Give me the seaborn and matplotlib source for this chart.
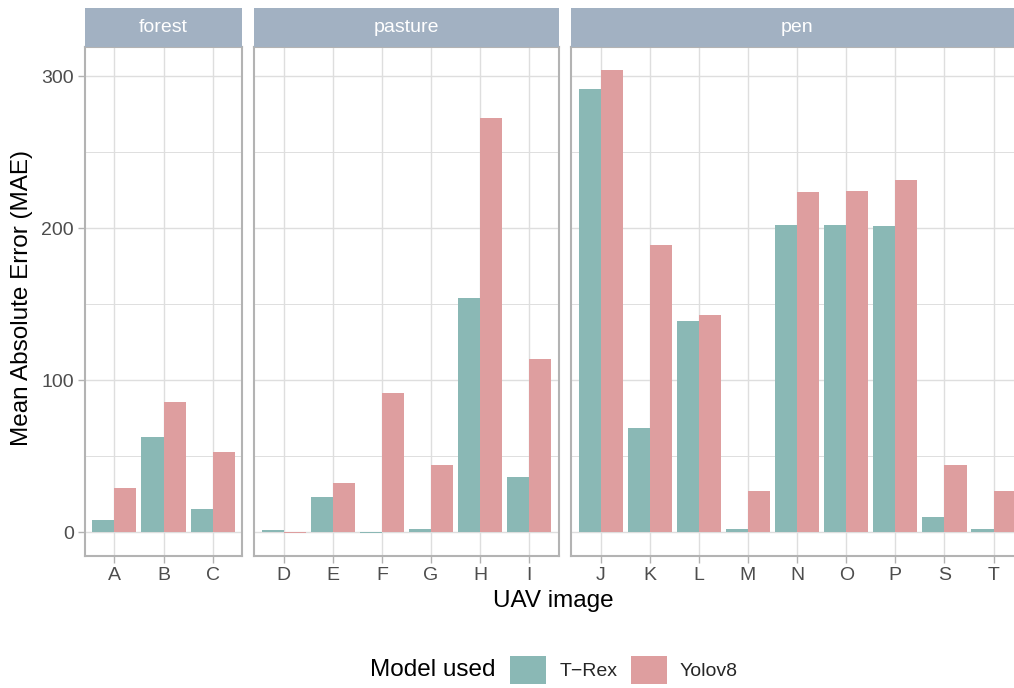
import matplotlib
matplotlib.use("Agg")
import matplotlib.pyplot as plt
from matplotlib.patches import Patch
from matplotlib.ticker import FixedLocator
import seaborn as sns
import pandas as pd

sns.set_theme(style="white")
plt.rcParams['font.family'] = ['Liberation Sans', 'DejaVu Sans']

# ---- data ----
facets = ["forest", "pasture", "pen"]
forest_images = ["A", "B", "C"]
pasture_images = ["D", "E", "F", "G", "H", "I"]
pen_images = ["J", "K", "L", "M", "N", "O", "P", "S", "T"]
models = ["T\u2212Rex", "Yolov8"]

forest_trex = [8.2, 62.6, 15.4]
forest_yolo = [29.1, 85.5, 52.7]
pasture_trex = [1.3, 23.0, -0.3, 2.0, 154.1, 36.3]
pasture_yolo = [-0.5, 32.5, 91.5, 44.2, 272.4, 113.6]
pen_trex = [291.8, 68.4, 139.1, 2.2, 202.1, 202.0, 201.2, 10.2, 2.2]
pen_yolo = [304.3, 188.8, 143.0, 27.2, 224.0, 224.7, 231.8, 44.2, 27.2]

colors = {"T\u2212Rex": "#8AB8B5", "Yolov8": "#DE9E9F"}

rows = []
for fac, imgs, tr, yo in [("forest", forest_images, forest_trex, forest_yolo),
                          ("pasture", pasture_images, pasture_trex, pasture_yolo),
                          ("pen", pen_images, pen_trex, pen_yolo)]:
    for i, t, y in zip(imgs, tr, yo):
        rows.append({"facet": fac, "image": i, "model": models[0], "mae": t})
        rows.append({"facet": fac, "image": i, "model": models[1], "mae": y})
df = pd.DataFrame(rows)

W, H = 1014, 688
fig = plt.figure(figsize=(W / 100, H / 100), dpi=100)

panel_px = {"forest": (84.8, 242.2), "pasture": (254.2, 558.8), "pen": (571.2, 1023.0)}
order = {"forest": forest_images, "pasture": pasture_images, "pen": pen_images}
ptop, pbot = 47.0, 556.0
stop = 8.0

border = "#B3B3B3"
gridc = "#DEDEDE"
ylim = (-15.7, 319.2)
small = 14
large = 17.5

for k, fac in enumerate(facets):
    l, r = panel_px[fac]
    ax = fig.add_axes([l / W, 1 - pbot / H, (r - l) / W, (pbot - ptop) / H])
    sub = df[df.facet == fac]
    sns.barplot(data=sub, x="image", y="mae", hue="model", order=order[fac],
                hue_order=models, palette=colors, width=0.9, gap=0,
                saturation=1, ax=ax, legend=False, errorbar=None,
                linewidth=0, edgecolor="none")
    n = len(order[fac])
    ax.set_xlim(-0.6, n - 1 + 0.6)
    ax.set_ylim(*ylim)
    ax.yaxis.set_major_locator(FixedLocator([0, 100, 200, 300]))
    ax.yaxis.set_minor_locator(FixedLocator([50, 150, 250]))
    ax.set_axisbelow(True)
    ax.grid(True, which="major", axis="both", color=gridc, lw=1.0)
    ax.grid(True, which="minor", axis="y", color=gridc, lw=0.7)
    ax.set_xlabel("")
    ax.set_ylabel("")
    for s in ax.spines.values():
        s.set_color(border)
        s.set_linewidth(1.5)
        s.set_visible(True)
    ax.tick_params(axis="both", which="major", colors=border, length=5, width=1,
                   labelcolor="#4D4D4D", labelsize=small, pad=3)
    ax.tick_params(axis="y", which="minor", length=0)
    ax.tick_params(axis="x", bottom=True)
    if k > 0:
        ax.tick_params(axis="y", left=False, labelleft=False)
    else:
        ax.tick_params(axis="y", left=True, labelleft=True)

    # strip
    sax = fig.add_axes([l / W, 1 - ptop / H, (r - l) / W, (ptop - stop) / H])
    sax.set_facecolor("#A2B1C2")
    sax.set_xticks([])
    sax.set_yticks([])
    for s in sax.spines.values():
        s.set_visible(False)
    sax.text(0.5, 0.5, fac, color="white", fontsize=small,
             ha="center", va="center", transform=sax.transAxes)

fig.text(22 / W, 1 - 298 / H, "Mean Absolute Error (MAE)", rotation=90,
         fontsize=large, ha="center", va="center", color="black")
fig.text(553 / W, 1 - 601 / H, "UAV image", fontsize=large,
         ha="center", va="center", color="black")

fig.text(495 / W, 1 - 670 / H, "Model used", fontsize=large,
         ha="right", va="center", color="black")
handles = [Patch(facecolor=colors[m], edgecolor="none", label=m) for m in models]
fig.legend(handles=handles, loc="center left", bbox_to_anchor=(510 / W, 1 - 670 / H),
           ncol=2, frameon=False, fontsize=small, handlelength=1.84,
           handleheight=1.84, handletextpad=0.69, columnspacing=0.7,
           borderpad=0, borderaxespad=0)

fig.savefig("out.png", dpi=100)
